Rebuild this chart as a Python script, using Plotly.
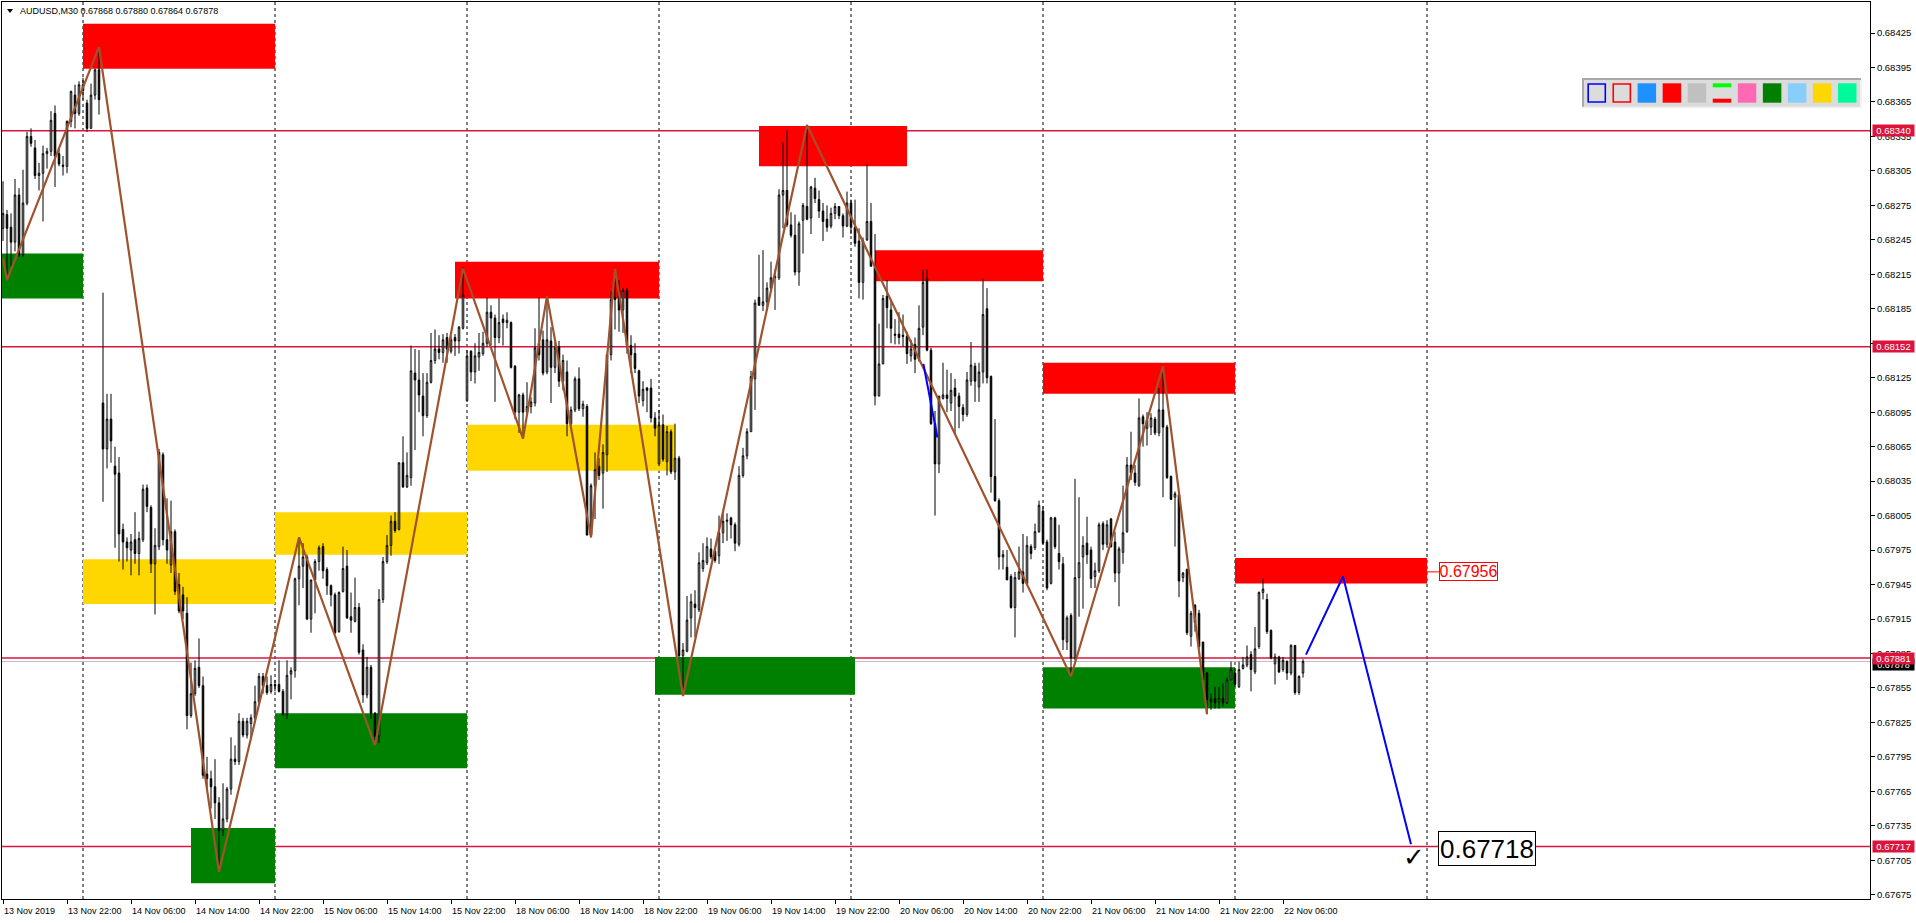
import plotly.graph_objects as go

# ---------------------------------------------------------------- data
TITLE_TEXT = "AUDUSD,M30 0.67868 0.67880 0.67864 0.67878"

# M30 candles, prices in 1e-5 units (bar 0 = 13 Nov 14:00)
OPEN_PTS = [
68255,68267,68256,68243,68284,68232,68277,68335,68325,68301,
68303,68320,68322,68355,68320,68310,68309,68348,68371,68355,
68380,68364,68342,68371,68393,68103,68063,68089,68048,68042,
67993,67982,67975,67984,67972,67984,68029,68012,67963,67978,
68058,67984,67962,67991,67945,67936,67920,67831,67850,67873,
67857,67780,67776,67769,67755,67731,67741,67767,67793,67791,
67826,67814,67824,67829,67843,67865,67857,67852,67858,67858,
67852,67832,67867,67870,67950,67961,67969,67915,67949,67965,
67978,67958,67944,67936,67904,67939,67961,67917,67913,67925,
67888,67849,67873,67833,67813,67932,67965,67979,68000,67993,
68051,68030,68038,68129,68123,68109,68092,68121,68140,68150,
68147,68160,68148,68160,68157,68168,68105,68148,68130,68143,
68146,68155,68182,68177,68160,68176,68173,68173,68135,68095,
68110,68095,68100,68103,68155,68158,68130,68157,68134,68152,
68122,68130,68085,68097,68124,68098,68100,67988,68031,68048,
68042,68058,68145,68195,68201,68184,68201,68153,68146,68131,
68105,68116,68116,68090,68050,68084,68052,68078,68043,68055,
67883,67887,67916,67928,67923,67959,67964,67976,67974,67970,
67990,68000,68003,67997,67980,68040,68057,68078,68124,68195,
68188,68191,68203,68212,68212,68284,68288,68258,68249,68217,
68262,68274,68264,68290,68280,68270,68263,68257,68268,68274,
68266,68257,68277,68256,68244,68208,68245,68261,68222,68109,
68137,68196,68184,68163,68163,68162,68161,68144,68154,68141,
68169,68211,68149,68085,68050,68107,68110,68103,68116,68109,
68099,68093,68122,68135,68117,68130,68185,68126,68039,68018,
67969,67960,67952,67925,67950,67956,67946,67978,67977,67991,
68009,67982,67946,68003,67972,67963,67895,67918,67881,67951,
67969,67981,67975,67952,67957,67998,67980,68002,67982,67955,
67973,67991,68049,68042,68031,68091,68081,68082,68089,68077,
68097,68082,68039,68021,68023,67951,67958,67900,67927,67920,
67895,67868,67845,67846,67843,67846,67842,67862,67868,67856,
67872,67875,67884,67869,67891,67938,67932,67905,67876,67882,
67871,67878,67868,67892,67851,67868,
]
HIGH_PTS = [
68296,68271,68268,68298,68290,68306,68339,68342,68332,68312,
68327,68325,68357,68362,68324,68318,68349,68375,68380,68383,
68386,68367,68381,68394,68413,68199,68111,68111,68065,68056,
67998,67986,67989,68008,67991,68032,68032,68014,67994,68063,
68060,68020,68018,67993,67955,67943,67934,67877,67879,67898,
67865,67795,67783,67793,67760,67772,67769,67812,67805,67833,
67829,67829,67832,67857,67868,67868,67865,67866,67862,67879,
67854,67879,67873,67951,67986,67981,67971,67949,67967,67979,
67981,67960,67945,67938,67939,67978,67975,67938,67951,67929,
67893,67882,67875,67834,67941,67969,67988,68005,68008,68051,
68074,68060,68153,68150,68149,68129,68129,68164,68167,68162,
68163,68164,68161,68163,68170,68221,68149,68149,68155,68164,
68165,68195,68188,68180,68194,68180,68182,68174,68136,68111,
68112,68121,68108,68168,68195,68166,68196,68169,68156,68157,
68145,68140,68100,68126,68134,68105,68102,68033,68060,68055,
68067,68146,68200,68220,68210,68203,68203,68162,68155,68132,
68122,68117,68124,68095,68097,68093,68083,68080,68085,68057,
67894,67935,67937,67940,67973,67981,67986,67985,67976,68005,
68007,68007,68004,67999,68048,68064,68081,68131,68193,68232,
68236,68208,68226,68219,68289,68330,68340,68269,68267,68261,
68277,68345,68292,68299,68288,68277,68275,68273,68277,68274,
68268,68287,68280,68280,68255,68247,68311,68277,68250,68172,
68197,68210,68193,68176,68182,68180,68165,68158,68160,68188,
68219,68219,68151,68096,68109,68138,68132,68129,68124,68112,
68102,68130,68156,68138,68138,68211,68203,68127,68089,68020,
67975,67975,67954,67956,67978,67989,67987,67980,67998,68018,
68013,67984,68004,68004,67997,67969,67918,67920,68037,68021,
67987,68004,67978,67964,67999,68000,68001,68003,67991,67978,
68031,68056,68078,68049,68107,68093,68095,68094,68091,68116,
68135,68084,68040,68026,68024,67956,67959,67922,67928,67923,
67895,67869,67850,67856,67856,67859,67864,67878,67872,67878,
67882,67892,67887,67908,67939,67950,67937,67906,67885,67883,
67882,67879,67893,67892,67866,67880,
]
LOW_PTS = [
68244,68215,68222,68235,68230,68230,68275,68326,68298,68288,
68261,68307,68318,68291,68309,68301,68303,68343,68342,68353,
68367,68339,68342,68367,68354,68017,68046,68051,67977,67965,
67958,67965,67953,67963,67953,67982,68008,67955,67919,67975,
67979,67963,67955,67936,67920,67915,67819,67829,67848,67855,
67776,67767,67750,67741,67695,67726,67738,67762,67788,67788,
67812,67811,67811,67827,67841,67850,67849,67850,67852,67851,
67831,67828,67845,67864,67927,67942,67914,67903,67920,67957,
67950,67936,67926,67902,67903,67938,67915,67903,67912,67884,
67842,67846,67828,67805,67807,67929,67963,67970,67990,67992,
68029,68029,68031,68062,68095,68074,68090,68120,68137,68141,
68138,68138,68146,68144,68146,68167,68104,68122,68120,68131,
68144,68152,68153,68104,68155,68153,68168,68133,68089,68077,
68072,68093,68094,68100,68140,68127,68128,68103,68129,68117,
68114,68074,68083,68095,68096,68091,67988,67986,68002,68036,
68011,68043,68140,68167,68165,68164,68146,68129,68129,68103,
68100,68095,68086,68074,68048,68052,68040,68041,68036,67882,
67848,67886,67899,67899,67921,67956,67962,67967,67964,67963,
67981,67983,67985,67974,67978,68038,68054,68078,68097,68188,
68183,68183,68200,68184,68210,68255,68256,68247,68214,68205,
68233,68262,68250,68277,68264,68244,68252,68255,68263,68263,
68247,68256,68250,68239,68194,68193,68244,68222,68101,68109,
68137,68168,68155,68154,68154,68152,68137,68139,68129,68139,
68162,68148,68084,68005,68042,68106,68095,68096,68076,68081,
68087,68091,68118,68104,68104,68120,68120,68025,68017,67958,
67958,67949,67924,67899,67949,67938,67944,67967,67975,67990,
67980,67940,67945,67976,67958,67888,67888,67865,67879,67917,
67924,67963,67942,67942,67955,67975,67977,67977,67947,67926,
67963,67990,68036,68031,68030,68065,68066,68075,68075,68074,
68021,68037,68019,67978,67934,67947,67901,67891,67904,67889,
67860,67833,67836,67837,67837,67839,67841,67862,67856,67855,
67871,67873,67852,67867,67889,67932,67902,67880,67858,67868,
67869,67862,67866,67849,67849,67864,
]
CLOSE_PTS = [
68268,68255,68243,68284,68232,68277,68335,68329,68301,68303,
68320,68322,68349,68318,68311,68309,68348,68374,68355,68380,
68375,68342,68371,68393,68367,68063,68089,68070,68041,67989,
67982,67977,67982,67972,67985,68028,68013,67963,67979,68060,
67984,67975,67991,67939,67922,67922,67831,67850,67872,67857,
67779,67776,67769,67755,67731,67741,67767,67793,67791,67826,
67814,67826,67829,67843,67865,67857,67851,67858,67857,67852,
67832,67866,67870,67950,67961,67969,67915,67949,67965,67977,
67957,67944,67936,67903,67938,67959,67916,67914,67925,67886,
67849,67873,67833,67813,67932,67965,67979,68000,67992,68051,
68030,68040,68131,68123,68110,68092,68121,68140,68150,68147,
68158,68150,68158,68157,68169,68197,68144,68130,68144,68147,
68155,68182,68177,68160,68173,68173,68175,68134,68095,68110,
68095,68100,68104,68151,68145,68129,68158,68134,68151,68122,
68140,68085,68097,68124,68098,68102,67988,68031,68045,68040,
68060,68145,68193,68193,68184,68201,68153,68145,68133,68109,
68115,68114,68090,68081,68084,68054,68078,68043,68055,67883,
67888,67914,67930,67925,67964,67966,67978,67969,67966,67990,
68000,68001,67997,67981,68040,68057,68078,68126,68190,68188,
68191,68203,68212,68213,68284,68288,68258,68249,68217,68259,
68275,68263,68291,68281,68270,68261,68256,68268,68274,68266,
68257,68277,68256,68242,68208,68244,68261,68222,68109,68137,
68194,68186,68168,68162,68160,68161,68146,68150,68141,68168,
68208,68149,68085,68050,68109,68110,68107,68114,68109,68100,
68093,68123,68136,68122,68130,68180,68125,68039,68018,67969,
67971,67949,67925,67951,67956,67946,67979,67972,67991,68014,
67981,67942,68003,67978,67965,67897,67916,67881,67951,67964,
67979,67971,67950,67957,67997,67980,67997,67978,67955,67976,
67990,68049,68042,68034,68090,68085,68088,68090,68077,68097,
68082,68038,68019,68024,67948,67955,67903,67920,67912,67891,
67862,67845,67843,67842,67846,67842,67862,67871,67858,67871,
67875,67882,67871,67889,67938,67941,67904,67881,67882,67869,
67879,67868,67892,67851,67865,67878,
]

TIME_TICK_BARS = [0, 16, 32, 48, 64, 80, 96, 112, 128, 144, 160,
                  176, 192, 208, 224, 240, 256, 272, 288, 304, 320]
TIME_TICK_LABELS = ["13 Nov 2019", "13 Nov 22:00", "14 Nov 06:00", "14 Nov 14:00",
                    "14 Nov 22:00", "15 Nov 06:00", "15 Nov 14:00", "15 Nov 22:00",
                    "18 Nov 06:00", "18 Nov 14:00", "18 Nov 22:00", "19 Nov 06:00",
                    "19 Nov 14:00", "19 Nov 22:00", "20 Nov 06:00", "20 Nov 14:00",
                    "20 Nov 22:00", "21 Nov 06:00", "21 Nov 14:00", "21 Nov 22:00",
                    "22 Nov 06:00"]
PRICE_TICK_LABELS = ["0.67675", "0.67705", "0.67735", "0.67765", "0.67795", "0.67825",
                     "0.67855", "0.67885", "0.67915", "0.67945", "0.67975", "0.68005",
                     "0.68035", "0.68065", "0.68095", "0.68125", "0.68155", "0.68185",
                     "0.68215", "0.68245", "0.68275", "0.68305", "0.68335", "0.68365",
                     "0.68395", "0.68425"]

DAY_SEPARATOR_BARS = [20, 68, 116, 164, 212, 260, 308, 356]
LEVEL_PRICES = [0.68340, 0.68152, 0.67881, 0.67717]
BID_PRICE = 0.67878

BOX_X0 = [20, -2, 20, 47, 68, 68, 113, 116, 189, 163, 218, 260, 260, 308]
BOX_X1 = [68, 20, 68, 68, 116, 116, 164, 168, 226, 213, 260, 308, 308, 356]
BOX_TOP = [0.68433, 0.68233, 0.67967, 0.67733, 0.68008, 0.67833, 0.68226, 0.68084,
           0.68344, 0.67882, 0.68236, 0.68138, 0.67873, 0.67968]
BOX_BOTTOM = [0.68394, 0.68194, 0.67928, 0.67685, 0.67971, 0.67785, 0.68194, 0.68044,
              0.68309, 0.67849, 0.68209, 0.68111, 0.67837, 0.67946]
BOX_COLOR = ["#FF0000", "#008000", "#FFD700", "#008000", "#FFD700", "#008000", "#FF0000",
             "#FFD700", "#FF0000", "#008000", "#FF0000", "#FF0000", "#008000", "#FF0000"]

ZIGZAG_BARS = [0, 1, 24, 54, 74, 93, 115, 130, 136, 147, 153, 170, 201, 267, 290, 301]
ZIGZAG_PRICES = [0.68229, 0.68210, 0.68413, 0.67695, 0.67986, 0.67805, 0.68220, 0.68072,
                 0.68196, 0.67986, 0.68220, 0.67848, 0.68345, 0.67865, 0.68135, 0.67832]
BLUE_SEG_BARS = [230.1, 233.6]
BLUE_SEG_PRICES = [0.68137, 0.68073]
PROJ_BARS = [325.75, 335, 352]
PROJ_PRICES = [0.67884, 0.67952, 0.67719]

TARGET_LABEL = "0.67956"
FINAL_LABEL = "0.67718"
TOOLBAR_COLORS = ["#DCDCDC", "#DCDCDC", "#1E90FF", "#FF0000", "#C0C0C0", "#DCDCDC",
                  "#FF69B4", "#008000", "#87CEFA", "#FFD700", "#00FA9A"]

# ---------------------------------------------------------------- layout helpers
W, H = 1916, 923
ML, MR, MT, MB = 2, 46, 2, 24
PW, PH = W - ML - MR, H - MT - MB
X_RANGE = [-0.25, 466.75]
Y_RANGE = [0.676713, 0.684520]
AX_FONT = "Liberation Sans, Arial, sans-serif"
AX_SIZE = 9


def pxx(x):
    return (x - ML) / PW


def pxy(y):
    return 1 - (y - MT) / PH


n = len(CLOSE_PTS)
assert len(OPEN_PTS) == n and len(HIGH_PTS) == n and len(LOW_PTS) == n
bars = list(range(n))
o = [v / 1e5 for v in OPEN_PTS]
c = [v / 1e5 for v in CLOSE_PTS]
h = [max(a, b, d) / 1e5 for a, b, d in zip(HIGH_PTS, OPEN_PTS, CLOSE_PTS)]
l = [min(a, b, d) / 1e5 for a, b, d in zip(LOW_PTS, OPEN_PTS, CLOSE_PTS)]

fig = go.Figure()
fig.add_trace(go.Candlestick(
    x=bars, open=o, high=h, low=l, close=c,
    increasing=dict(line=dict(color="black", width=1), fillcolor="white"),
    decreasing=dict(line=dict(color="black", width=1), fillcolor="black"),
    whiskerwidth=0, hoverinfo="none", showlegend=False))
fig.add_trace(go.Scatter(x=ZIGZAG_BARS, y=ZIGZAG_PRICES, mode="lines",
                         line=dict(color="#A0522D", width=2.2), hoverinfo="skip"))
fig.add_trace(go.Scatter(x=BLUE_SEG_BARS, y=BLUE_SEG_PRICES, mode="lines",
                         line=dict(color="#0000FF", width=2), hoverinfo="skip"))
fig.add_trace(go.Scatter(x=PROJ_BARS, y=PROJ_PRICES, mode="lines",
                         line=dict(color="#0000FF", width=2), hoverinfo="skip",
                         cliponaxis=False))

shapes = []
for b in DAY_SEPARATOR_BARS:
    shapes.append(dict(type="line", xref="x", yref="paper", x0=b, x1=b, y0=0, y1=1,
                       line=dict(color="black", width=1, dash="3px,3px"), layer="below"))
for x0, x1, t, btm, col in zip(BOX_X0, BOX_X1, BOX_TOP, BOX_BOTTOM, BOX_COLOR):
    shapes.append(dict(type="rect", xref="x", yref="y", x0=x0, x1=x1, y0=btm, y1=t,
                       fillcolor=col, line=dict(width=0), layer="below"))
shapes.append(dict(type="line", xref="paper", yref="y", x0=0, x1=1, y0=BID_PRICE, y1=BID_PRICE,
                   line=dict(color="#C0C0C0", width=1), layer="below"))
for lv in LEVEL_PRICES:
    shapes.append(dict(type="line", xref="paper", yref="y", x0=0, x1=1, y0=lv, y1=lv,
                       line=dict(color="#DC143C", width=1.5), layer="below"))

# connector from last box to target label
shapes.append(dict(type="line", xref="x", yref="y", x0=356, x1=359, y0=0.67956, y1=0.67956,
                   line=dict(color="#FF0000", width=1)))

# toolbar (top right)
shapes.append(dict(type="rect", xref="paper", yref="paper", x0=pxx(1582), x1=pxx(1861),
                   y0=pxy(108), y1=pxy(78), fillcolor="#DCDCDC", line=dict(width=0)))
shapes.append(dict(type="line", xref="paper", yref="paper", x0=pxx(1582), x1=pxx(1861),
                   y0=pxy(79), y1=pxy(79), line=dict(color="#A9A9A9", width=2)))
shapes.append(dict(type="line", xref="paper", yref="paper", x0=pxx(1583), x1=pxx(1583),
                   y0=pxy(108), y1=pxy(78), line=dict(color="#A9A9A9", width=2)))
shapes.append(dict(type="line", xref="paper", yref="paper", x0=pxx(1861), x1=pxx(1861),
                   y0=pxy(108), y1=pxy(80), line=dict(color="#F2F2F2", width=2)))
shapes.append(dict(type="line", xref="paper", yref="paper", x0=pxx(1582), x1=pxx(1861),
                   y0=pxy(107.5), y1=pxy(107.5), line=dict(color="#F2F2F2", width=1.5)))
for i, col in enumerate(TOOLBAR_COLORS):
    x0 = 1587.5 + 25.05 * i
    x1 = x0 + 18.5
    if i in (0, 1):
        shapes.append(dict(type="rect", xref="paper", yref="paper", x0=pxx(x0 + 0.7), x1=pxx(x1 - 0.7),
                           y0=pxy(102), y1=pxy(84), fillcolor=col,
                           line=dict(color="#0000FF" if i == 0 else "#FF0000", width=1.6)))
    elif i == 5:
        shapes.append(dict(type="rect", xref="paper", yref="paper", x0=pxx(x0), x1=pxx(x1),
                           y0=pxy(87.3), y1=pxy(83.3), fillcolor="#00FF00", line=dict(width=0)))
        shapes.append(dict(type="rect", xref="paper", yref="paper", x0=pxx(x0), x1=pxx(x1),
                           y0=pxy(102.7), y1=pxy(98.7), fillcolor="#FF0000", line=dict(width=0)))
    else:
        shapes.append(dict(type="rect", xref="paper", yref="paper", x0=pxx(x0), x1=pxx(x1),
                           y0=pxy(102.7), y1=pxy(83.3), fillcolor=col, line=dict(width=0)))

# small triangle before the title
shapes.append(dict(type="path", xref="paper", yref="paper",
                   path=f"M {pxx(7)} {pxy(9)} L {pxx(13)} {pxy(9)} L {pxx(10)} {pxy(13)} Z",
                   fillcolor="black", line=dict(width=0)))

annotations = []
annotations.append(dict(text=TITLE_TEXT, xref="paper", yref="paper", x=pxx(18), y=pxy(11),
                        xanchor="left", yanchor="middle", showarrow=False,
                        font=dict(family=AX_FONT, size=AX_SIZE, color="black")))
for b, lab in zip(TIME_TICK_BARS, TIME_TICK_LABELS):
    annotations.append(dict(text=lab, xref="x", yref="paper", x=b, y=0, xanchor="left",
                            yanchor="top", yshift=-5, xshift=-1, showarrow=False,
                            font=dict(family=AX_FONT, size=AX_SIZE, color="black")))
# bid label (mostly hidden), then level labels
annotations.append(dict(text=f"{BID_PRICE:.5f}", xref="paper", yref="y", x=1, y=BID_PRICE,
                        xanchor="left", yanchor="middle", xshift=2, yshift=-3, showarrow=False,
                        bgcolor="black", width=41, height=11, borderpad=0,
                        font=dict(family=AX_FONT, size=AX_SIZE, color="white")))
for lv in LEVEL_PRICES:
    annotations.append(dict(text=f"{lv:.5f}", xref="paper", yref="y", x=1, y=lv,
                            xanchor="left", yanchor="middle", xshift=2, showarrow=False,
                            bgcolor="#DC143C", width=41, height=11, borderpad=0,
                            font=dict(family=AX_FONT, size=AX_SIZE + 0.5, color="white")))
annotations.append(dict(text=TARGET_LABEL, xref="paper", yref="y", x=pxx(1439), y=0.67956,
                        xanchor="left", yanchor="middle", showarrow=False,
                        bgcolor="white", bordercolor="#FF0000", borderwidth=1, borderpad=0,
                        width=57, height=17,
                        font=dict(family="Liberation Sans, Arial", size=16, color="#FF0000")))
annotations.append(dict(text=FINAL_LABEL, xref="paper", yref="paper", x=pxx(1438), y=pxy(848.5),
                        xanchor="left", yanchor="middle", showarrow=False,
                        bgcolor="white", bordercolor="black", borderwidth=1, borderpad=0,
                        width=96, height=33,
                        font=dict(family="Liberation Sans, Arial", size=26, color="black")))
annotations.append(dict(text="✓", xref="paper", yref="paper", x=pxx(1414), y=pxy(857),
                        xanchor="center", yanchor="middle", showarrow=False,
                        font=dict(family="DejaVu Sans", size=26, color="black")))

price_tick_vals = [float(s) for s in PRICE_TICK_LABELS]

fig.update_layout(
    width=W, height=H, margin=dict(l=ML, r=MR, t=MT, b=MB, pad=0),
    paper_bgcolor="white", plot_bgcolor="white", showlegend=False,
    boxgap=0.45, hovermode=False,
    shapes=shapes, annotations=annotations,
    xaxis=dict(range=X_RANGE, showgrid=False, zeroline=False, rangeslider=dict(visible=False),
               showline=True, linecolor="black", linewidth=1, mirror=True,
               ticks="outside", ticklen=4, tickcolor="black", tickwidth=1,
               tickvals=TIME_TICK_BARS, showticklabels=False, fixedrange=True),
    yaxis=dict(range=Y_RANGE, side="right", showgrid=False, zeroline=False,
               showline=True, linecolor="black", linewidth=1, mirror=True,
               ticks="outside", ticklen=4, tickcolor="black", tickwidth=1,
               tickvals=price_tick_vals, ticktext=PRICE_TICK_LABELS,
               tickfont=dict(family=AX_FONT, size=AX_SIZE + 0.5, color="black"), fixedrange=True),
)

fig.write_html("out.html", config={"displayModeBar": False},
               post_script="document.body.style.margin='0';document.body.style.overflow='hidden';")
